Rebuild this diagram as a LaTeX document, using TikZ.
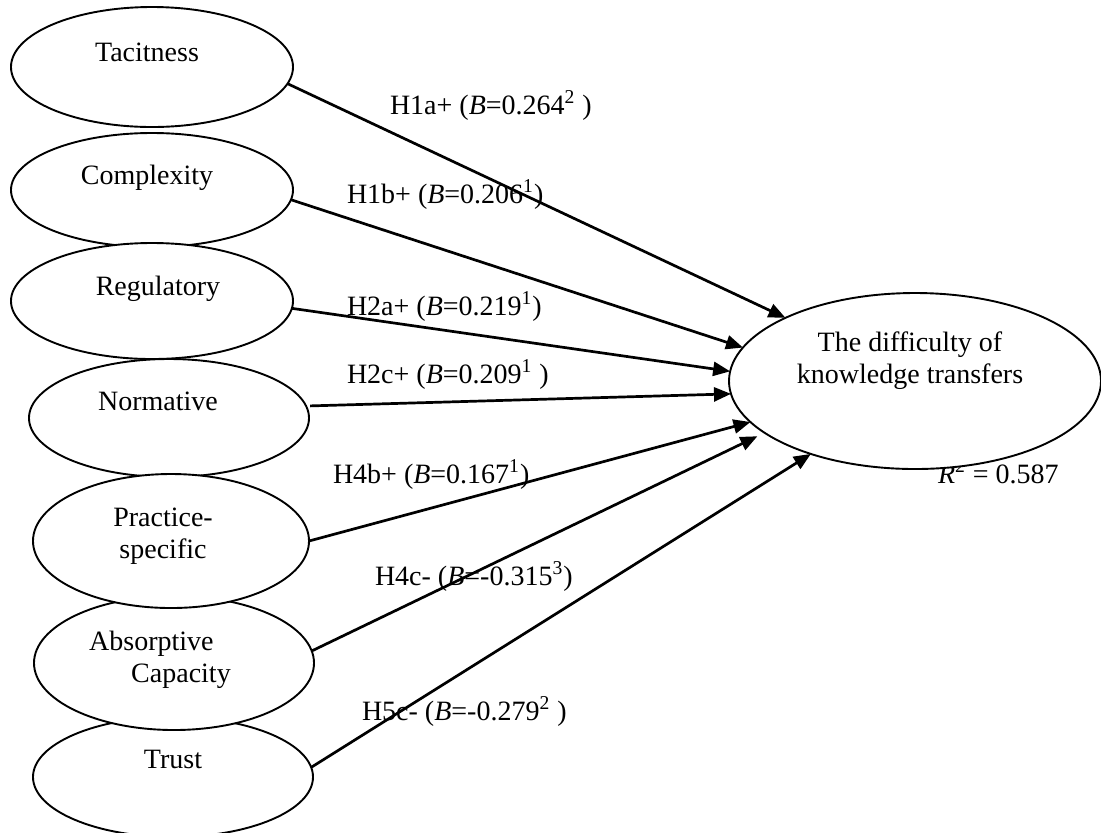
\documentclass[tikz,border=0pt]{standalone}
\usepackage{fontspec}
\setmainfont{Liberation Serif}
\usetikzlibrary{shapes.geometric,arrows.meta}
\begin{document}
\begin{tikzpicture}[x=0.5pt,y=-0.5pt,
  construct/.style={ellipse, draw, line width=0.95pt, fill=white, inner sep=0pt, outer sep=0pt},
  txt/.style={inner sep=0pt, outer sep=0pt, font=\fontsize{14}{16}\selectfont, anchor=base},
  lbl/.style={inner sep=0pt, outer sep=0pt, font=\fontsize{14}{16}\selectfont, anchor=base west},
  link/.style={line width=1.35pt, -{Triangle[length=8.5pt,width=7pt]}}
]
\useasboundingbox (0,0) rectangle (1101,832);
% R^2 (partly hidden by the outcome ellipse)
\node[lbl] (r2) at (938,483) {\textit{R}\textsuperscript{2} = 0.587};
% constructs
\node[construct, minimum width=141pt, minimum height=60pt] (tac) at (152,67) {};
\node[construct, minimum width=141pt, minimum height=57pt] (cpx) at (152,190) {};
\node[construct, minimum width=141pt, minimum height=58pt] (reg) at (152,301) {};
\node[construct, minimum width=140pt, minimum height=59pt] (nor) at (169,418) {};
\node[construct, minimum width=140pt, minimum height=60pt] (tru) at (173,777) {};
\node[construct, minimum width=140pt, minimum height=67pt] (abs) at (174,663) {};
\node[construct, minimum width=138pt, minimum height=67pt] (pra) at (171,541) {};
\node[construct, minimum width=186pt, minimum height=88pt] (tgt) at (915,381) {};
% texts
\node[txt] (ttac) at (147,61) {Tacitness};
\node[txt] (tcpx) at (147,184) {Complexity};
\node[txt] (treg) at (158,295) {Regulatory};
\node[txt] (tnor) at (158,410) {Normative};
\node[txt, align=center] (tpra) at (163,558) {Practice-\\specific};
\node[txt, align=left] (tabs) at (160,682) {Absorptive\\\hspace*{21pt}Capacity};
\node[txt] (ttru) at (173,768) {Trust};
\node[txt, align=center] (ttgt) at (910,383) {The difficulty of\\knowledge transfers};
% paths
\draw[link] (tac.-7) -- (tgt.154);
\draw[link] (cpx.-4) -- (tgt.169);
\draw[link] (reg.-3) -- (tgt.177);
\draw[link, shorten <=2pt] (nor.5) -- (tgt.184);
\draw[link] (pra.0) -- (tgt.194);
\draw[link, shorten >=4pt] (abs.5) -- (tgt.199);
\draw[link] (tru.4) -- (tgt.215);
% labels
\node[lbl] (l1) at (390,114) {H1a+ (\textit{B}=0.264\textsuperscript{2} )};
\node[lbl] (l2) at (347,203) {H1b+ (\textit{B}=0.206\textsuperscript{1})};
\node[lbl] (l3) at (347,315) {H2a+ (\textit{B}=0.219\textsuperscript{1})};
\node[lbl] (l4) at (347,383) {H2c+ (\textit{B}=0.209\textsuperscript{1} )};
\node[lbl] (l5) at (333,483) {H4b+ (\textit{B}=0.167\textsuperscript{1})};
\node[lbl] (l6) at (375,585) {H4c- (\textit{B}=-0.315\textsuperscript{3})};
\node[lbl] (l7) at (362,720) {H5c- (\textit{B}=-0.279\textsuperscript{2} )};
\end{tikzpicture}
\end{document}
